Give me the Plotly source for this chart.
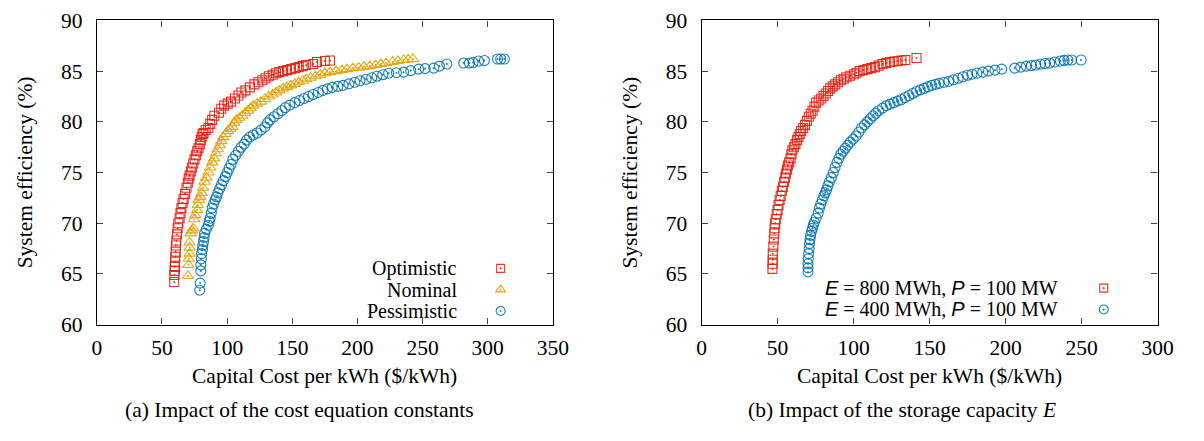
import plotly.graph_objects as go

# ---------------- data ----------------
opt_x = [59.4,59.5,59.7,59.8,60.0,60.2,60.5,60.7,61.0,61.5,62.0,62.6,63.5,64.2,64.9,65.8,66.6,67.7,68.8,69.8,
         70.5,71.2,72.1,72.9,74.0,75.0,76.0,77.0,78.0,79.0,79.8,80.4,81.2,81.9,83.5,85.6,87.0,88.5,90.2,93.7,
         95.5,97.7,100.5,103,106,108.7,111,114,117.5,121,124,127,129.5,132,135,137.5,140,143,146,149,
         152,155,158,160.6,166,169,175,179]
opt_y = [64.2,64.9,65.3,65.7,66.2,66.7,67.2,67.8,68.3,68.9,69.5,70.0,70.5,71.0,71.5,72.0,72.4,72.9,73.5,74.0,
         74.4,74.7,75.1,75.5,75.9,76.3,76.7,77.1,77.4,77.8,78.2,78.5,78.8,78.9,79.2,79.4,79.8,80.2,80.6,80.9,
         81.3,81.6,81.8,82.0,82.3,82.6,82.9,83.1,83.4,83.7,83.9,84.1,84.3,84.5,84.65,84.8,84.9,85.0,85.1,85.2,
         85.3,85.4,85.5,85.6,85.7,85.9,86.0,86.05]

nom_x = [69.8,70.3,70.6,71.2,71.3,71.2,72.0,73.0,74.0,74.7,75.5,77.0,77.5,78.4,79.3,80.4,81.5,82.7,84.0,85.6,
         87.0,88.5,90.0,91.4,92.8,94.3,95.6,97.0,98.8,100.6,102.3,104,105.5,107,109.3,111.6,113.8,116,118,120,
         123,126,129,132,135,137.5,140,143,146,149,152,155,158,160.6,164,168,171.5,175,179,183.6,
         188,192,196.5,201,205,209.6,214,218,222,227,231,235.5,239,242.7]
nom_y = [64.8,65.9,66.5,67.0,67.6,68.1,69.0,69.3,69.5,70.4,70.8,71.3,71.8,72.3,72.6,73.0,73.5,74.1,74.5,75.0,
         75.5,76.0,76.4,76.9,77.3,77.7,78.1,78.5,78.8,79.1,79.3,79.5,79.9,80.2,80.4,80.6,80.9,81.1,81.35,81.6,
         81.8,82.0,82.25,82.5,82.7,82.9,83.1,83.3,83.45,83.6,83.75,83.9,84.05,84.2,84.35,84.5,84.65,84.8,84.9,85.0,
         85.1,85.2,85.3,85.35,85.45,85.5,85.6,85.7,85.8,85.9,86.0,86.1,86.15,86.2]

pes_x = [79.0,79.3,79.8,79.8,80.2,80.4,81.0,81.3,81.9,82.3,82.7,84.0,85.6,86.3,87.0,87.8,88.5,89.6,90.8,91.8,
         92.8,94.2,95.7,97.1,98.6,100,101.5,103,104.4,106.5,108.7,110.8,113,115,117.3,120,123,126,129,131,
         133,136,139,142,144.7,148,152,155.5,159,162.5,166,170,173.5,177,180.7,185,189,193.5,198,202,
         206.7,211,215,219.5,224,230,235.5,241,247,252,258.6,263,268.7,281.6,286,288.8,293,297.5,307.6,310,312.8]
pes_y = [63.4,64.1,65.3,65.9,66.5,67.0,67.4,67.8,68.2,68.6,69.0,69.4,69.8,70.2,70.5,71.0,71.5,71.9,72.3,72.6,
         73.0,73.4,73.8,74.2,74.6,75.0,75.4,75.8,76.3,76.7,77.1,77.5,77.8,78.2,78.5,78.7,78.9,79.2,79.5,79.9,
         80.2,80.5,80.8,81.1,81.4,81.65,81.9,82.1,82.3,82.5,82.7,82.9,83.1,83.25,83.4,83.5,83.6,83.75,83.9,84.05,
         84.2,84.35,84.5,84.65,84.8,84.85,84.9,85.05,85.2,85.25,85.3,85.5,85.7,85.8,85.8,85.85,86.0,86.05,86.2,86.2,86.2]

e800_x = [46.6,46.7,46.8,46.8,47.2,47.5,47.8,48.0,48.4,48.8,49.4,50.0,50.6,51.3,52.0,52.8,53.5,54.3,55.0,55.5,
          56.2,56.8,57.6,58.5,59.1,59.7,60.7,61.7,62.7,63.7,64.6,65.5,66.8,68.0,69.2,70.5,71.8,73.0,74.2,75.4,
          77.0,78.7,80.2,81.7,83.2,84.6,86.3,87.9,89.8,91.6,93.5,95.3,97.8,100.3,102,104,106.5,109,111.5,114,
          116.5,119,121.5,124,126.5,129,131.5,134,141.4]
e800_y = [65.5,66.0,66.4,67.0,67.7,68.4,69.0,69.5,70.0,70.4,70.9,71.3,71.8,72.3,72.7,73.2,73.6,74.1,74.5,74.9,
          75.3,75.7,76.0,76.4,76.8,77.2,77.5,77.8,78.2,78.5,78.8,79.1,79.4,79.7,80.1,80.5,80.8,81.1,81.5,81.9,
          82.1,82.3,82.55,82.8,83.05,83.3,83.5,83.7,83.9,84.1,84.25,84.4,84.55,84.7,84.85,85.0,85.1,85.2,85.3,85.4,
          85.55,85.7,85.8,85.9,85.95,86.0,86.05,86.1,86.3]

e400_x = [70.0,70.0,70.0,70.2,70.4,70.7,71.0,71.3,71.7,72.3,72.9,73.5,74.2,75.4,76.7,77.5,78.4,79.4,80.4,81.3,
          82.2,83.1,84.1,85.3,86.6,87.8,89.1,90.3,91.6,93.1,94.6,96.2,97.8,99.7,101.6,103.5,105.3,107.2,109,110.9,
          112.8,114.6,116.5,119,121.5,124,126.5,129,131.4,133.9,136.4,138.9,141.4,143.9,146.4,148.9,151.4,153.9,156.3,159.5,
          162.6,165.7,168.8,172,175,178,181.2,185,188.7,193,197.5,206,210,213.6,217,219.8,223,226,229,232.3,
          236,238.5,241,243.5,249.7]
e400_y = [65.2,65.6,66.0,66.5,67.0,67.5,68.0,68.4,68.8,69.2,69.5,69.8,70.1,70.5,71.0,71.5,71.9,72.3,72.7,73.0,
          73.3,73.7,74.1,74.5,75.0,75.5,76.0,76.4,76.8,77.1,77.4,77.7,78.0,78.3,78.6,79.0,79.4,79.7,80.0,80.3,
          80.6,80.85,81.1,81.35,81.6,81.75,81.9,82.05,82.2,82.4,82.6,82.8,83.0,83.15,83.3,83.45,83.6,83.7,83.8,83.9,
          84.0,84.15,84.3,84.45,84.6,84.7,84.8,84.9,85.0,85.1,85.2,85.3,85.4,85.5,85.55,85.6,85.7,85.75,85.8,85.9,
          86.0,86.06,86.1,86.1,86.1]

SANS = "'Liberation Sans', Arimo, 'DejaVu Sans', sans-serif"
left_labels = ["Optimistic", "Nominal", "Pessimistic"]
right_labels = [f'<i><span style="font-family:{SANS}">E</span></i> = 800 MWh, '
                f'<i><span style="font-family:{SANS}">P</span></i> = 100 MW',
                f'<i><span style="font-family:{SANS}">E</span></i> = 400 MWh, '
                f'<i><span style="font-family:{SANS}">P</span></i> = 100 MW']

x_title = "Capital Cost per kWh ($/kWh)"
y_title = "System efficiency (%)"
cap_a = "(a) Impact of the cost equation constants"
cap_b = "(b) Impact of the storage capacity <i>E</i>"

# ---------------- styling ----------------
RED, ORANGE, BLUE = "#e51e10", "#e69f00", "#0072b2"
FONT = "'Liberation Serif', Tinos, 'Times New Roman', 'DejaVu Serif', serif"
FS = 21.5
FS_KEY = 20
W, H = 1204, 441

def mk(symbol, color, size):
    return dict(symbol=symbol, size=size, color=color, opacity=0.9,
                line=dict(color=color, width=1.1))

SQ = ("square-open-dot", 9)
TR = ("triangle-up-open-dot", 10)
CI = ("circle-open-dot", 10)

fig = go.Figure()

def add(x, y, sym, color, xa, ya):
    fig.add_trace(go.Scatter(x=x, y=y, mode="markers", marker=mk(sym[0], color, sym[1]),
                             xaxis=xa, yaxis=ya, showlegend=False, hoverinfo="skip",
                             cliponaxis=False))

add(opt_x, opt_y, SQ, RED, "x", "y")
add(nom_x, nom_y, TR, ORANGE, "x", "y")
add(pes_x, pes_y, CI, BLUE, "x", "y")
add(e800_x, e800_y, SQ, RED, "x2", "y2")
add(e400_x, e400_y, CI, BLUE, "x2", "y2")

# legend keys (placed in axis coordinates, like gnuplot's key)
leg_left_x, leg_left_y = 310, [65.55, 63.45, 61.35]
leg_right_x, leg_right_y = 264.6, [63.6, 61.5]
for lab, yy, sym, col in zip(left_labels, leg_left_y, [SQ, TR, CI], [RED, ORANGE, BLUE]):
    add([leg_left_x], [yy], (sym[0], sym[1] - 1), col, "x", "y")
for lab, yy, sym, col in zip(right_labels, leg_right_y, [SQ, CI], [RED, BLUE]):
    add([leg_right_x], [yy], (sym[0], sym[1] - 1), col, "x2", "y2")

# plot area geometry (pixels)
LX0, LX1 = 93.5, 557.5
RX0, RX1 = 709, 1173
PY0, PY1 = 10, 331.7

def ax_common():
    return dict(showline=True, linecolor="black", linewidth=1.3, mirror="ticks",
                ticks="inside", ticklen=6, tickcolor="#444", tickwidth=1,
                showgrid=False, zeroline=False, fixedrange=True,
                ticklabeloverflow="allow",
                tickfont=dict(family=FONT, size=FS, color="black"))

ydom = [1 - PY1 / H, 1 - PY0 / H]
fig.update_layout(
    width=W, height=H, margin=dict(l=0, r=0, t=0, b=0),
    paper_bgcolor="white", plot_bgcolor="white",
    font=dict(family=FONT, size=FS, color="black"),
    xaxis=dict(domain=[LX0 / W, LX1 / W], range=[0, 350], dtick=50, anchor="y",
               ticklabelstandoff=3, **ax_common()),
    yaxis=dict(domain=ydom, range=[60, 90], dtick=5, anchor="x",
               ticklabelstandoff=9, **ax_common()),
    xaxis2=dict(domain=[RX0 / W, RX1 / W], range=[0, 300], dtick=50, anchor="y2",
                ticklabelstandoff=3, **ax_common()),
    yaxis2=dict(domain=ydom, range=[60, 90], dtick=5, anchor="x2",
                ticklabelstandoff=9, **ax_common()),
)

def ann(text, x, y, xref="paper", yref="paper", xanchor="center", yanchor="middle",
        angle=0, size=FS):
    fig.add_annotation(text=text, x=x, y=y, xref=xref, yref=yref, xanchor=xanchor,
                       yanchor=yanchor, textangle=angle, showarrow=False, borderpad=0,
                       font=dict(family=FONT, size=size, color="black"))

# axis titles and captions
ann(x_title, (LX0 + LX1) / 2 / W, 1 - 386 / H)
ann(x_title, (RX0 + RX1) / 2 / W, 1 - 386 / H)
ann(y_title, 20 / W, 1 - 171 / H, angle=-90)
ann(y_title, 636 / W, 1 - 171 / H, angle=-90)
ann(cap_a, 300 / W, 1 - 422 / H)
ann(cap_b, 913 / W, 1 - 422 / H)

# key labels
for lab, yy in zip(left_labels, leg_left_y):
    ann(lab, 461 / W, yy, yref="y", xanchor="right", size=FS_KEY)
for lab, yy in zip(right_labels, leg_right_y):
    ann(lab, 1073 / W, yy, yref="y2", xanchor="right", size=FS_KEY)

fig.write_html("out.html")
